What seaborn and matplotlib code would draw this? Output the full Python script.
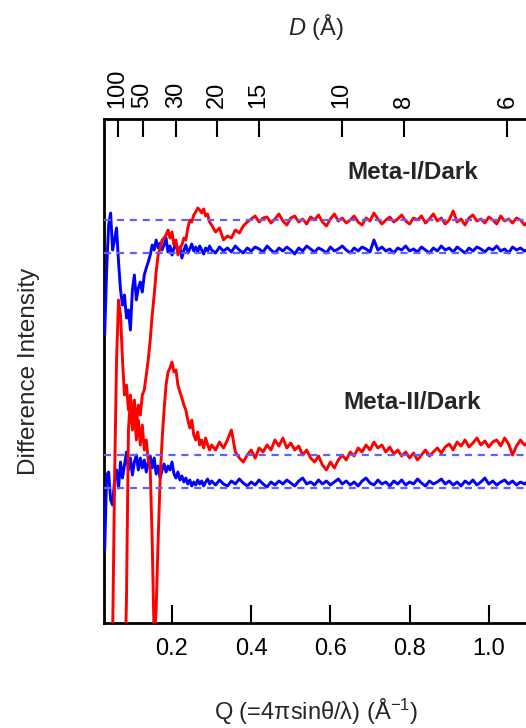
import numpy as np
import pandas as pd
import matplotlib
matplotlib.use("Agg")
import matplotlib.pyplot as plt
import seaborn as sns

# ---------------- data ----------------
Q_LOW = [0.030, 0.035, 0.040, 0.045, 0.050, 0.055, 0.060, 0.065, 0.070, 0.075,
         0.080, 0.085, 0.090, 0.095, 0.100, 0.105, 0.110, 0.115, 0.120, 0.125,
         0.130, 0.135, 0.140, 0.145, 0.150, 0.155, 0.160, 0.165, 0.170, 0.175,
         0.180, 0.185, 0.190, 0.195, 0.200, 0.205, 0.210, 0.215, 0.220, 0.225,
         0.230, 0.235, 0.240, 0.245, 0.250, 0.255, 0.260, 0.265, 0.270, 0.275,
         0.280, 0.285, 0.290, 0.295]
Q_HIGH = [0.30, 0.31, 0.32, 0.33, 0.34, 0.35, 0.36, 0.37, 0.38, 0.39,
          0.40, 0.41, 0.42, 0.43, 0.44, 0.45, 0.46, 0.47, 0.48, 0.49,
          0.50, 0.51, 0.52, 0.53, 0.54, 0.55, 0.56, 0.57, 0.58, 0.59,
          0.60, 0.61, 0.62, 0.63, 0.64, 0.65, 0.66, 0.67, 0.68, 0.69,
          0.70, 0.71, 0.72, 0.73, 0.74, 0.75, 0.76, 0.77, 0.78, 0.79,
          0.80, 0.81, 0.82, 0.83, 0.84, 0.85, 0.86, 0.87, 0.88, 0.89,
          0.90, 0.91, 0.92, 0.93, 0.94, 0.95, 0.96, 0.97, 0.98, 0.99,
          1.00, 1.01, 1.02, 1.03, 1.04, 1.05, 1.06, 1.07, 1.08, 1.09, 1.10]

# difference intensities (arbitrary units), relative to each trace's zero line
meta1_red = [-480, -480, -480, -480, -420, -260, -140, -80, -95, -140,
             -175, -165, -190, -175, -200, -180, -205, -185, -195, -175,
             -170, -155, -140, -120, -95, -75, -52, -35, -28, -20,
             -18, -15, -10, -18, -12, -25, -20, -35, -28, -25,
             -18, -20, -8, 0, -2, 5, 8, 12, 10, 7,
             11, 4, 6, -2,
             -5, -12, -8, -20, -16, -18, -10, -13, -6, -2,
             1, 4, -2, 2, 3, -3, 1, 6, -1, -5,
             2, 4, -2, 1, -4, 3, 0, 5, -2, -6,
             1, 6, -1, 2, -3, 0, 4, -2, -5, 2,
             -1, 7, 1, -4, 0, 3, -2, 1, 5, -1,
             -4, 2, 0, 4, -3, 1, 6, -1, 2, -4,
             0, 9, -2, 1, -5, 2, 5, -1, 1, -3,
             3, 0, -4, 4, -1, 1, -3, 2, 0, -5, -1]

meta1_blue = [-82, -17, 28, 40, 3, 13, 25, -9, -37, -52,
              -42, -65, -57, -77, -37, -22, -47, -35, -29, -39,
              -22, -15, -9, -2, 8, 3, 13, 5, 10, 3,
              8, 15, 1, 7, -2, 5, 9, 1, 6, -5,
              3, 8, 0, 4, 9, 2, 6, 1, 7, 3,
              -1, 5, 2, 7,
              3, 0, 6, 2, 5, 1, 7, 3, 0, 5,
              2, 6, 4, 1, 7, 3, 0, 5, 2, 6,
              3, -1, 5, 2, 7, 4, 1, 5, 3, 0,
              6, 2, 4, 7, 3, 0, 5, 2, 6, 4,
              1, 13, 3, 6, 2, 4, 0, 5, 3, 7,
              2, 4, 1, 6, 3, 0, 5, 2, 7, 3,
              5, 1, 6, 3, 0, 5, 2, 6, 4, 1,
              5, 3, 7, 2, 4, 0, 6, 3, 5, 2, 4]

meta2_red = [-245, -245, -245, -245, -245, -245, -245, -245, -245, -245,
             -245, -145, 25, 55, 25, 45, 15, 35, 10, 30,
             5, 15, -5, -15, -85, -185, -155, -85, -25, 15,
             45, 70, 83, 87, 93, 83, 85, 70, 63, 57,
             50, 45, 35, 27, 35, 20, 15, 23, 10, 15,
             7, 17, 10, 5,
             10, 5, 13, 7, 15, 25, 3, -3, -7, 0,
             5, -3, 7, 3, 10, 5, 15, 9, 17, 7,
             12, 5, 9, 0, 5, -3, -7, -1, -10, -15,
             -7, -13, -5, 0, -5, 3, -1, 7, 3, 10,
             5, 13, 7, 10, 3, 8, 1, 5, -1, 3,
             -3, 2, -5, 0, 5, -1, 3, 7, 2, 8,
             11, 5, 13, 9, 15, 8, 12, 17, 10, 14,
             8, 13, 15, 9, 17, 11, 0, 9, 15, 10, 13]

meta2_blue = [-62, 13, 16, -12, -17, 8, 18, 0, 26, 10,
              23, 36, 18, 30, 13, 26, 33, 18, 30, 20,
              28, 16, 26, 32, 20, 30, 14, 22, 10, 18,
              24, 16, 22, 18, 26, 14, 10, 16, 8, 12,
              6, 10, 4, 8, 2, 6, 3, 8, 4, 7,
              2, 6, 9, 4,
              7, 3, 8, 4, 2, 7, 4, 9, 5, 2,
              6, 3, 8, 4, 1, 6, 3, 7, 4, 8,
              5, 2, 7, 10, 4, 6, 3, 8, 4, 7,
              3, 6, 9, 4, 7, 3, 6, 2, 7, 10,
              5, 3, 8, 4, 6, 2, 7, 4, 8, 3,
              6, 4, 9, 5, 2, 7, 4, 6, 9, 4,
              7, 3, 6, 2, 7, 4, 8, 3, 6, 10,
              4, 7, 3, 6, 8, 4, 7, 3, 6, 4, 7]

# vertical offsets of the stacked traces (zero lines)
OFFSETS = {"meta1_red": 403, "meta1_blue": 370, "meta2_red": 168, "meta2_blue": 135}
D_TICKS = [100, 50, 30, 20, 15, 10, 8, 6]
X_TICKS = [0.2, 0.4, 0.6, 0.8, 1.0]

Q = Q_LOW + Q_HIGH
for arr in (meta1_red, meta1_blue, meta2_red, meta2_blue):
    assert len(arr) == len(Q), len(arr)

rows = []
for name, vals in (("meta1_red", meta1_red), ("meta1_blue", meta1_blue),
                   ("meta2_red", meta2_red), ("meta2_blue", meta2_blue)):
    for q, v in zip(Q, vals):
        rows.append({"trace": name, "Q": q, "I": v + OFFSETS[name]})
df = pd.DataFrame(rows)

# ---------------- style ----------------
sns.set_theme(style="white")
plt.rcParams["font.family"] = ["Liberation Sans", "DejaVu Sans"]
plt.rcParams["mathtext.fontset"] = "custom"
plt.rcParams["mathtext.rm"] = "Liberation Sans"
plt.rcParams["mathtext.it"] = "Liberation Sans:italic"

fig = plt.figure(figsize=(5.26, 7.28), dpi=100)
ax = fig.add_axes([104 / 526, 105 / 728, 424 / 526, 504 / 728])

xmin, xmax = 0.0283, 1.0990
ax.set_xlim(xmin, xmax)
ax.set_ylim(0, 504)

# zero (reference) lines
for name in OFFSETS:
    ax.axhline(OFFSETS[name], color="#6060ff", lw=1.6, ls=(0, (3.2, 2.6)), zorder=5)

colors = {"meta1_red": "#ff0000", "meta1_blue": "#0000ff",
          "meta2_red": "#ff0000", "meta2_blue": "#0000ff"}
for name in ("meta1_blue", "meta2_blue", "meta1_red", "meta2_red"):
    sub = df[df["trace"] == name]
    sns.lineplot(data=sub, x="Q", y="I", ax=ax, color=colors[name], lw=2.1,
                 sort=False, estimator=None, legend=False, zorder=3)

for s in ("left", "bottom", "top"):
    ax.spines[s].set_linewidth(2.0)
    ax.spines[s].set_color("black")
ax.spines["right"].set_visible(False)

ax.set_yticks([])
ax.set_xticks(X_TICKS)
ax.set_xticklabels([f"{t:.1f}" for t in X_TICKS])
ax.tick_params(axis="x", direction="in", length=13, width=1.5, labelsize=17,
               pad=11, bottom=True, colors="black")
ax.set_xlabel("Q (=4\u03c0sin\u03b8/\u03bb) (Å$^{\\mathregular{-1}}$)",
              fontsize=17, labelpad=26)
ax.set_ylabel("Difference Intensity", fontsize=17.5, labelpad=46)

# top axis in D = 2*pi/Q
axt = ax.twiny()
axt.set_xlim(xmin, xmax)
axt.set_xticks([2 * np.pi / d for d in D_TICKS])
axt.set_xticklabels([str(d) for d in D_TICKS], rotation=90)
axt.tick_params(axis="x", direction="in", length=13, width=1.5, labelsize=17,
                pad=8, top=True, colors="black")
for s in axt.spines.values():
    s.set_visible(False)
axt.set_xlabel(r"$\mathit{D}$ (Å)", fontsize=17, labelpad=24)

ax.text(0.642, 451, "Meta-I/Dark", fontsize=17.5, fontweight="bold",
        ha="left", va="center")
ax.text(0.632, 221, "Meta-II/Dark", fontsize=17.5, fontweight="bold",
        ha="left", va="center")

fig.savefig("out.png", dpi=100)
